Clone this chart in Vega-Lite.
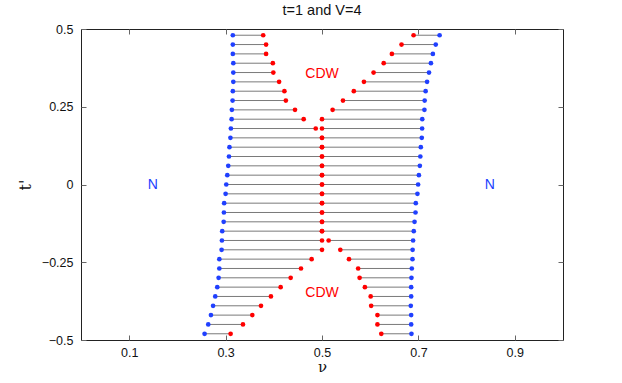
{
  "$schema": "https://vega.github.io/schema/vega-lite/v6.json",
  "width": 482,
  "height": 311,
  "autosize": "none",
  "padding": {"left": 81, "top": 29, "right": 59, "bottom": 43},
  "background": "white",
  "config": {
    "view": {"stroke": "#222", "strokeWidth": 1},
    "font": "Liberation Sans",
    "axis": {"grid": false, "domain": false, "tickColor": "#666", "labelColor": "#111", "labelFontSize": 12.5, "titleFontWeight": "normal", "titleColor": "#111"}
  },
  "title": {"text": "t=1 and V=4", "fontSize": 14.5, "fontWeight": "normal", "color": "#111", "offset": 5, "font": "Liberation Sans"},
  "datasets": {
    "rows": [
      {"tp": 0.48, "bl": 0.315, "rl": 0.378, "rr": 0.690, "br": 0.744},
      {"tp": 0.45, "bl": 0.315, "rl": 0.384, "rr": 0.665, "br": 0.736},
      {"tp": 0.42, "bl": 0.315, "rl": 0.384, "rr": 0.645, "br": 0.730},
      {"tp": 0.39, "bl": 0.316, "rl": 0.398, "rr": 0.628, "br": 0.726},
      {"tp": 0.36, "bl": 0.316, "rl": 0.399, "rr": 0.607, "br": 0.722},
      {"tp": 0.33, "bl": 0.316, "rl": 0.411, "rr": 0.587, "br": 0.718},
      {"tp": 0.30, "bl": 0.315, "rl": 0.422, "rr": 0.566, "br": 0.715},
      {"tp": 0.27, "bl": 0.3145, "rl": 0.425, "rr": 0.5435, "br": 0.713},
      {"tp": 0.24, "bl": 0.313, "rl": 0.444, "rr": 0.522, "br": 0.7125},
      {"tp": 0.21, "bl": 0.3125, "rl": 0.462, "rr": 0.500, "br": 0.708},
      {"tp": 0.18, "bl": 0.311, "rl": 0.487, "rr": 0.500, "br": 0.7077},
      {"tp": 0.15, "bl": 0.310, "rl": 0.5, "rr": 0.5, "br": 0.707},
      {"tp": 0.12, "bl": 0.308, "rl": 0.5, "rr": 0.5, "br": 0.705},
      {"tp": 0.09, "bl": 0.307, "rl": 0.5, "rr": 0.5, "br": 0.704},
      {"tp": 0.06, "bl": 0.3055, "rl": 0.5, "rr": 0.5, "br": 0.703},
      {"tp": 0.03, "bl": 0.3035, "rl": 0.5, "rr": 0.5, "br": 0.701},
      {"tp": 0.0, "bl": 0.3014, "rl": 0.5, "rr": 0.5, "br": 0.6994},
      {"tp": -0.03, "bl": 0.300, "rl": 0.5, "rr": 0.5, "br": 0.698},
      {"tp": -0.06, "bl": 0.297, "rl": 0.5, "rr": 0.5, "br": 0.6946},
      {"tp": -0.09, "bl": 0.2965, "rl": 0.5, "rr": 0.5, "br": 0.694},
      {"tp": -0.12, "bl": 0.296, "rl": 0.5, "rr": 0.5, "br": 0.692},
      {"tp": -0.15, "bl": 0.293, "rl": 0.5, "rr": 0.5, "br": 0.6904},
      {"tp": -0.18, "bl": 0.2924, "rl": 0.5, "rr": 0.5138, "br": 0.689},
      {"tp": -0.21, "bl": 0.2917, "rl": 0.5, "rr": 0.538, "br": 0.688},
      {"tp": -0.24, "bl": 0.287, "rl": 0.4785, "rr": 0.556, "br": 0.6877},
      {"tp": -0.27, "bl": 0.287, "rl": 0.4564, "rr": 0.575, "br": 0.6863},
      {"tp": -0.30, "bl": 0.2855, "rl": 0.435, "rr": 0.578, "br": 0.6856},
      {"tp": -0.33, "bl": 0.2827, "rl": 0.4142, "rr": 0.589, "br": 0.685},
      {"tp": -0.36, "bl": 0.2785, "rl": 0.394, "rr": 0.601, "br": 0.685},
      {"tp": -0.39, "bl": 0.274, "rl": 0.3734, "rr": 0.602, "br": 0.6842},
      {"tp": -0.42, "bl": 0.2696, "rl": 0.3554, "rr": 0.615, "br": 0.685},
      {"tp": -0.45, "bl": 0.264, "rl": 0.336, "rr": 0.615, "br": 0.685},
      {"tp": -0.48, "bl": 0.2564, "rl": 0.3104, "rr": 0.623, "br": 0.6856}
    ],
    "labels": [
      {"nu": 0.5, "tp": 0.355, "text": "CDW", "kind": "CDW"},
      {"nu": 0.5, "tp": -0.35, "text": "CDW", "kind": "CDW"},
      {"nu": 0.149, "tp": 0.0, "text": "N", "kind": "N"},
      {"nu": 0.848, "tp": 0.0, "text": "N", "kind": "N"}
    ]
  },
  "resolve": {"axis": {"x": "independent", "y": "independent"}},
  "layer": [
    {
      "data": {"name": "rows"},
      "mark": {"type": "rule", "color": "#7a7a7a", "strokeWidth": 1},
      "encoding": {
        "x": {"field": "bl", "type": "quantitative", "scale": {"domain": [0, 1], "nice": false, "zero": false},
          "axis": {"orient": "bottom", "values": [0.1, 0.3, 0.5, 0.7, 0.9], "labelExpr": "format(datum.value, '~g')", "tickSize": -5, "labelPadding": 11, "title": "ν", "titleFontSize": 15, "titlePadding": 1, "titleFont": "DejaVu Serif"}},
        "x2": {"field": "rl"},
        "y": {"field": "tp", "type": "quantitative", "scale": {"domain": [-0.5, 0.5], "nice": false, "zero": false},
          "axis": {"orient": "left", "values": [-0.5, -0.25, 0, 0.25, 0.5], "labelExpr": "format(datum.value, '~g')", "tickSize": -5, "labelPadding": 13, "title": "t'", "titleFontSize": 16, "titlePadding": 8, "titleFont": "DejaVu Serif"}}
      }
    },
    {
      "data": {"name": "rows"},
      "mark": {"type": "rule", "color": "#7a7a7a", "strokeWidth": 1},
      "encoding": {
        "x": {"field": "rr", "type": "quantitative",
          "axis": {"orient": "top", "values": [0.1, 0.3, 0.5, 0.7, 0.9], "tickSize": -5, "labels": false, "title": null}},
        "x2": {"field": "br"},
        "y": {"field": "tp", "type": "quantitative",
          "axis": {"orient": "right", "values": [-0.5, -0.25, 0, 0.25, 0.5], "tickSize": -5, "labels": false, "title": null}}
      }
    },
    {
      "data": {"name": "rows"},
      "mark": {"type": "circle", "color": "#2040ff", "size": 22, "opacity": 1},
      "encoding": {"x": {"field": "bl", "type": "quantitative", "axis": null}, "y": {"field": "tp", "type": "quantitative", "axis": null}}
    },
    {
      "data": {"name": "rows"},
      "mark": {"type": "circle", "color": "#2040ff", "size": 22, "opacity": 1},
      "encoding": {"x": {"field": "br", "type": "quantitative", "axis": null}, "y": {"field": "tp", "type": "quantitative", "axis": null}}
    },
    {
      "data": {"name": "rows"},
      "mark": {"type": "circle", "color": "#ff0000", "size": 22, "opacity": 1},
      "encoding": {"x": {"field": "rl", "type": "quantitative", "axis": null}, "y": {"field": "tp", "type": "quantitative", "axis": null}}
    },
    {
      "data": {"name": "rows"},
      "mark": {"type": "circle", "color": "#ff0000", "size": 22, "opacity": 1},
      "encoding": {"x": {"field": "rr", "type": "quantitative", "axis": null}, "y": {"field": "tp", "type": "quantitative", "axis": null}}
    },
    {
      "data": {"name": "labels"},
      "mark": {"type": "text", "fontSize": 14, "font": "Liberation Sans", "align": "center", "baseline": "middle"},
      "encoding": {
        "x": {"field": "nu", "type": "quantitative", "axis": null},
        "y": {"field": "tp", "type": "quantitative", "axis": null},
        "text": {"field": "text"},
        "color": {"field": "kind", "type": "nominal", "scale": {"domain": ["CDW", "N"], "range": ["#ff0000", "#2040ff"]}, "legend": null}
      }
    }
  ]
}
